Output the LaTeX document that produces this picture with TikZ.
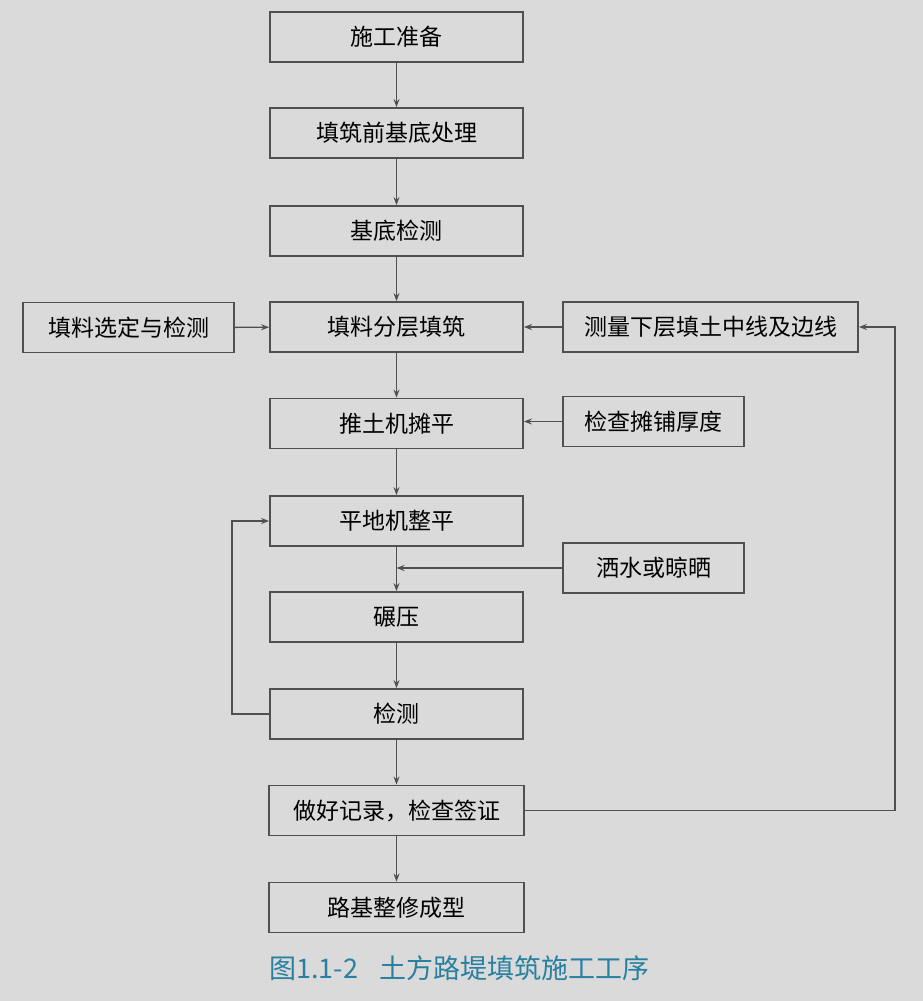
\documentclass[tikz,border=0pt]{standalone}
\usepackage{fontspec}
\setmainfont{Noto Sans CJK SC}
\usetikzlibrary{arrows.meta}
\definecolor{bgc}{RGB}{218,218,218}
\definecolor{linec}{RGB}{80,80,80}
\definecolor{capc}{RGB}{40,128,160}
\tikzset{
  box/.style={draw=linec, line width=1.8pt, minimum height=50pt, inner sep=0pt, font=\fontsize{23}{26}\selectfont, text=black},
  mainbox/.style={box, minimum width=253pt},
  arr/.style={draw=linec, line width=1.4pt, -{Stealth[length=8pt,width=6pt]}},
  ln/.style={draw=linec, line width=1.4pt}
}
\begin{document}
\begin{tikzpicture}[x=1pt,y=-1pt]
\fill[bgc] (0,0) rectangle (923,1001);
\useasboundingbox (0,0) rectangle (923,1001);
\node[mainbox] (n1) at (396.5,37) {施工准备};
\node[mainbox] (n2) at (396.5,133) {填筑前基底处理};
\node[mainbox] (n3) at (396.5,231) {基底检测};
\node[mainbox] (n4) at (396.5,327) {填料分层填筑};
\node[mainbox] (n5) at (396.5,423.5) {推土机摊平};
\node[mainbox] (n6) at (396.5,521) {平地机整平};
\node[mainbox] (n7) at (396.5,617) {碾压};
\node[mainbox] (n8) at (396.5,714) {检测};
\node[box, minimum width=255pt] (n9) at (396.5,810.5) {做好记录，检查签证};
\node[box, minimum width=255pt] (n10) at (396.5,907.5) {路基整修成型};
\node[box, minimum width=211pt] (l1) at (128.5,327.5) {填料选定与检测};
\node[box, minimum width=295pt] (r1) at (710.5,327) {测量下层填土中线及边线};
\node[box, minimum width=181pt] (r2) at (653.5,421.5) {检查摊铺厚度};
\node[box, minimum width=181pt] (r3) at (653.5,568) {洒水或晾晒};
\node[anchor=west, text=capc, font=\fontsize{27}{30}\selectfont, inner sep=0pt] (cap) at (269,968) {图1.1-2\hspace{0.8em}土方路堤填筑施工工序};
\coordinate (j) at (n6.south |- r3.west);
\coordinate (lp) at (232,714);
\coordinate (fb) at (895,810.5);
\draw[arr] (n1) -- (n2);
\draw[arr] (n2) -- (n3);
\draw[arr] (n3) -- (n4);
\draw[arr] (n4) -- (n5);
\draw[arr] (n5) -- (n6);
\draw[arr] (n6) -- (n7);
\draw[arr] (n7) -- (n8);
\draw[arr] (n8) -- (n9);
\draw[arr] (n9) -- (n10);
\draw[arr] (l1) -- (n4);
\draw[arr] (r1) -- (n4);
\draw[arr] (r2.west) -- (n5.east |- r2.west);
\draw[arr] (r3.west) -- (j);
\draw[arr] (n8.west) -- (lp) |- (n6.west);
\draw[arr] (n9.east) -- (fb) |- (r1.east);
\end{tikzpicture}
\end{document}
